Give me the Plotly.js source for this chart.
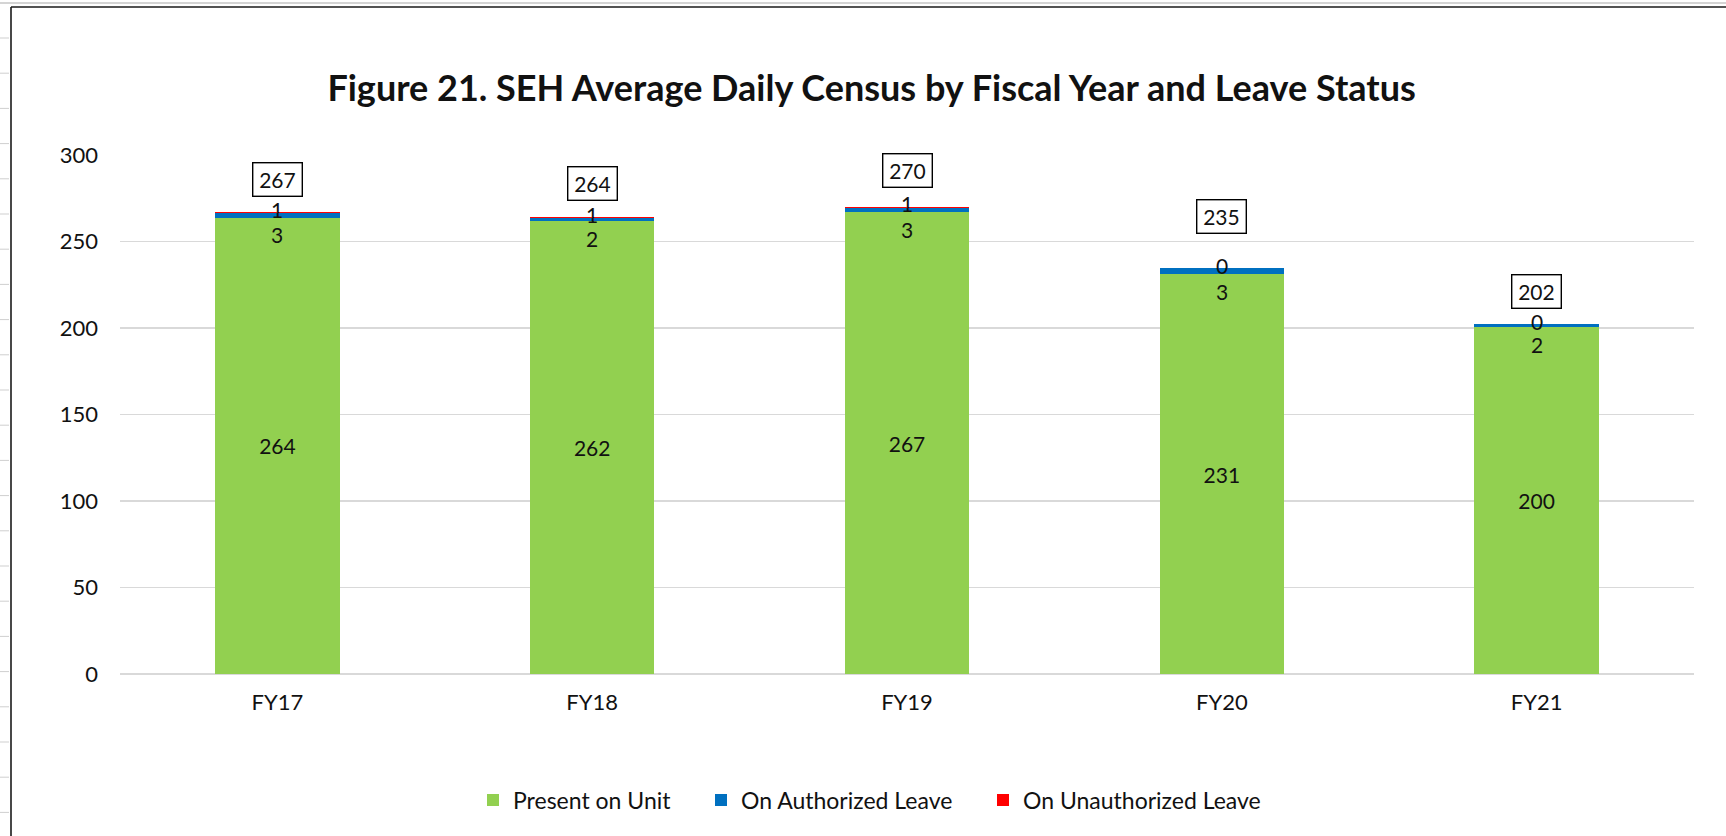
<!DOCTYPE html>
<html>
<head>
<meta charset="utf-8">
<script src="https://cdn.plot.ly/plotly-3.0.1.min.js"></script>
<style>html,body{margin:0;padding:0;background:#fff;overflow:hidden;}#chart{width:1726px;height:836px;}</style>
</head>
<body>
<div id="chart"></div>
<script>
// ---- data ----
const categories = ["FY17", "FY18", "FY19", "FY20", "FY21"];
const presentOnUnit = [263.6, 261.7, 266.8, 231.2, 200.4];
const onAuthorizedLeave = [2.6, 1.8, 2.6, 3.45, 1.65];
const onUnauthorizedLeave = [0.6, 0.6, 0.6, 0, 0];
const seriesNames = ["Present on Unit", "On Authorized Leave", "On Unauthorized Leave"];
const yTicks = [0, 50, 100, 150, 200, 250, 300];

// ---- styling ----
const FONT = "Lato, 'Open Sans', sans-serif";
const TXT = "#111111";
const colors = ["#92D050", "#0070C0", "#FF0000"];
const totalBoxShift = [33, 34, 36, 52, 33]; // px above bar top (layout only)
const legendLeftPx = [473, 701, 983];       // legend entry positions (layout only)

const totals = categories.map((c, i) => presentOnUnit[i] + onAuthorizedLeave[i] + onUnauthorizedLeave[i]);
const r = v => String(Math.round(v));

const traces = [
  {
    type: "bar", name: seriesNames[0], x: categories, y: presentOnUnit, legend: "legend",
    marker: { color: colors[0] },
    text: presentOnUnit.map(r), textposition: "inside", insidetextanchor: "middle",
    textfont: { family: FONT, size: 21, color: TXT }, hoverinfo: "x+y"
  },
  {
    type: "bar", name: seriesNames[1], x: categories, y: onAuthorizedLeave, legend: "legend2",
    marker: { color: colors[1] }, textposition: "none", hoverinfo: "x+y"
  },
  {
    type: "bar", name: seriesNames[2], x: categories, y: onUnauthorizedLeave, legend: "legend3",
    marker: { color: colors[2] }, textposition: "none", hoverinfo: "x+y"
  }
];

const annotations = [];
categories.forEach((c, i) => {
  annotations.push({
    x: c, y: presentOnUnit[i], xref: "x", yref: "y", text: r(onAuthorizedLeave[i]),
    showarrow: false, yshift: -17, font: { family: FONT, size: 21, color: TXT }
  });
  annotations.push({
    x: c, y: totals[i], xref: "x", yref: "y", text: r(onUnauthorizedLeave[i]),
    showarrow: false, yshift: 3, font: { family: FONT, size: 21, color: TXT }
  });
  annotations.push({
    x: c, y: totals[i], xref: "x", yref: "y", text: r(totals[i]),
    showarrow: false, yshift: totalBoxShift[i], font: { family: FONT, size: 21, color: TXT },
    width: 42, height: 26, bgcolor: "#ffffff", bordercolor: "#000000", borderwidth: 1.4, borderpad: 3
  });
});

// paper-coordinate helpers for the surrounding worksheet frame
const PL = 120, PW = 1574, PB = 674, PH = 519;
const px = v => (v - PL) / PW;
const py = v => (PB - v) / PH;

const shapes = [
  { type: "line", xref: "paper", yref: "paper", x0: px(0), x1: px(1726), y0: py(3), y1: py(3),
    line: { color: "#d4d4d4", width: 2 } },
  { type: "line", xref: "paper", yref: "paper", x0: px(11), x1: px(1726), y0: py(7), y1: py(7),
    line: { color: "#1a1a1a", width: 1.6 } },
  { type: "line", xref: "paper", yref: "paper", x0: px(11), x1: px(11), y0: py(7), y1: py(836),
    line: { color: "#1a1a1a", width: 1.6 } }
];
for (let yy = 38; yy < 836; yy += 35.2) {
  shapes.push({ type: "line", xref: "paper", yref: "paper", x0: px(0), x1: px(9), y0: py(yy), y1: py(yy),
    line: { color: "#cfcfcf", width: 1 } });
}

const legendBase = i => ({
  orientation: "h", xref: "container", yref: "container",
  x: legendLeftPx[i] / 1726, xanchor: "left", y: 1 - 800 / 836, yanchor: "middle",
  font: { family: FONT, size: 23, color: TXT }, itemwidth: 30, bgcolor: "rgba(0,0,0,0)"
});

const layout = {
  width: 1726, height: 836,
  paper_bgcolor: "#ffffff", plot_bgcolor: "#ffffff",
  margin: { l: PL, r: 1726 - PL - PW, t: 155, b: 836 - PB, pad: 0 },
  barmode: "stack", bargap: 0.605,
  title: {
    text: "<b>Figure 21. SEH Average Daily Census by Fiscal Year and Leave Status</b>",
    font: { family: FONT, size: 36, color: TXT },
    x: 0.505, xref: "container", xanchor: "center",
    y: 1 - 88 / 836, yref: "container", yanchor: "middle"
  },
  xaxis: {
    type: "category", showgrid: false, showline: false, zeroline: false, ticks: "",
    tickfont: { family: FONT, size: 22, color: TXT }, ticklabelstandoff: 13
  },
  yaxis: {
    range: [0, 300], tickvals: yTicks, ticktext: yTicks.map(String),
    showgrid: true, gridcolor: "#d9d9d9", gridwidth: 1.5,
    zeroline: true, zerolinecolor: "#d9d9d9", zerolinewidth: 1.5,
    showline: false, ticks: "", ticklabelstandoff: 21,
    tickfont: { family: FONT, size: 22, color: TXT }
  },
  showlegend: true,
  legend: legendBase(0),
  legend2: legendBase(1),
  legend3: legendBase(2),
  annotations: annotations,
  shapes: shapes
};

Plotly.newPlot("chart", traces, layout, { staticPlot: true, displayModeBar: false });
</script>
</body>
</html>
